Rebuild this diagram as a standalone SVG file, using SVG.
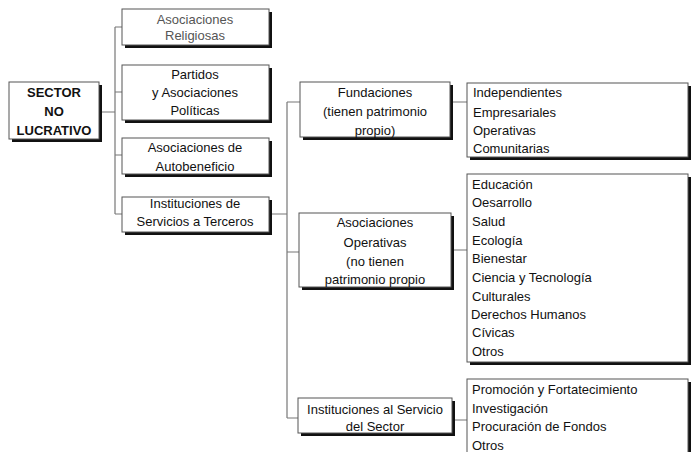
<svg xmlns="http://www.w3.org/2000/svg" width="692" height="452" viewBox="0 0 692 452">
<style>
.box{fill:#fff;stroke:#555;stroke-width:1}
.sh{fill:#111}
.t{font-family:"Liberation Sans",Arial,sans-serif;font-size:13px;fill:#111}
.c{text-anchor:middle}
.b{font-weight:bold}
.faint{fill:#555}
.ln{stroke:#777;stroke-width:1.2;fill:none}
</style>
<rect width="692" height="452" fill="#fff"/>
<g id="connectors">
<path class="ln" d="M99,112H115M115,27V214M115,27H122M115,92H122M115,155H122M115,214H122"/>
<path class="ln" d="M269,214H287M287,102V418M287,102H300M287,252H299M287,418H298"/>
<path class="ln" d="M450,102H467M451,250H467M452,420H467"/>
</g>
<g id="sector">
<rect class="sh" x="12" y="85" width="90" height="57"/>
<rect class="box" x="9" y="82" width="90" height="57"/>
<text class="t c b" x="54" y="97">SECTOR</text>
<text class="t c b" x="54" y="116">NO</text>
<text class="t c b" x="54" y="134.5">LUCRATIVO</text>
</g>
<g id="religiosas">
<rect class="sh" x="125" y="12" width="147" height="36"/>
<rect class="box" x="122" y="9" width="147" height="36"/>
<text class="t c faint" x="195" y="24">Asociaciones</text>
<text class="t c faint" x="195" y="40">Religiosas</text>
</g>
<g id="partidos">
<rect class="sh" x="125" y="68" width="147" height="55"/>
<rect class="box" x="122" y="65" width="147" height="55"/>
<text class="t c" x="195" y="79">Partidos</text>
<text class="t c" x="195" y="97">y Asociaciones</text>
<text class="t c" x="195" y="115">Políticas</text>
</g>
<g id="autobeneficio">
<rect class="sh" x="125" y="141" width="147" height="36"/>
<rect class="box" x="122" y="138" width="147" height="36"/>
<text class="t c" x="195" y="152">Asociaciones de</text>
<text class="t c" x="195" y="171">Autobeneficio</text>
</g>
<g id="instituciones">
<rect class="sh" x="125" y="200" width="147" height="35"/>
<rect class="box" x="122" y="197" width="147" height="35"/>
<text class="t c" x="195" y="208">Instituciones de</text>
<text class="t c" x="195" y="226">Servicios a Terceros</text>
</g>
<g id="fundaciones">
<rect class="sh" x="303" y="85" width="150" height="55"/>
<rect class="box" x="300" y="82" width="150" height="55"/>
<text class="t c" x="375" y="97">Fundaciones</text>
<text class="t c" x="375" y="116">(tienen patrimonio</text>
<text class="t c" x="375" y="134.5">propio)</text>
</g>
<g id="asocop">
<rect class="sh" x="302" y="216" width="152" height="74"/>
<rect class="box" x="299" y="213" width="152" height="74"/>
<text class="t c" x="375" y="227">Asociaciones</text>
<text class="t c" x="375" y="247">Operativas</text>
<text class="t c" x="375" y="266">(no tienen</text>
<text class="t c" x="375" y="284">patrimonio propio</text>
</g>
<g id="instserv">
<rect class="sh" x="301" y="401" width="154" height="35"/>
<rect class="box" x="298" y="398" width="154" height="35"/>
<text class="t c" x="375" y="414">Instituciones al Servicio</text>
<text class="t c" x="375" y="431">del Sector</text>
</g>
<g id="list1">
<rect class="sh" x="470" y="86" width="221" height="74"/>
<rect class="box" x="467" y="83" width="221" height="74"/>
<text class="t" x="473" y="97">Independientes</text>
<text class="t" x="473" y="117">Empresariales</text>
<text class="t" x="473" y="135">Operativas</text>
<text class="t" x="473" y="153">Comunitarias</text>
</g>
<g id="list2">
<rect class="sh" x="470" y="177" width="221" height="188"/>
<rect class="box" x="467" y="174" width="221" height="188"/>
<text class="t" x="472" y="189">Educación</text>
<text class="t" x="472" y="207">Oesarrollo</text>
<text class="t" x="472" y="226">Salud</text>
<text class="t" x="472" y="245">Ecología</text>
<text class="t" x="472" y="263">Bienestar</text>
<text class="t" x="472" y="282">Ciencia y Tecnología</text>
<text class="t" x="472" y="301">Culturales</text>
<text class="t" x="471" y="319">Derechos Humanos</text>
<text class="t" x="472" y="337">Cívicas</text>
<text class="t" x="472" y="356">Otros</text>
</g>
<g id="list3">
<rect class="sh" x="470" y="382" width="221" height="80"/>
<rect class="box" x="467" y="379" width="221" height="80"/>
<text class="t" x="472" y="394">Promoción y Fortatecimiento</text>
<text class="t" x="472" y="413">Investigación</text>
<text class="t" x="472" y="431">Procuración de Fondos</text>
<text class="t" x="472" y="450">Otros</text>
</g>
</svg>
